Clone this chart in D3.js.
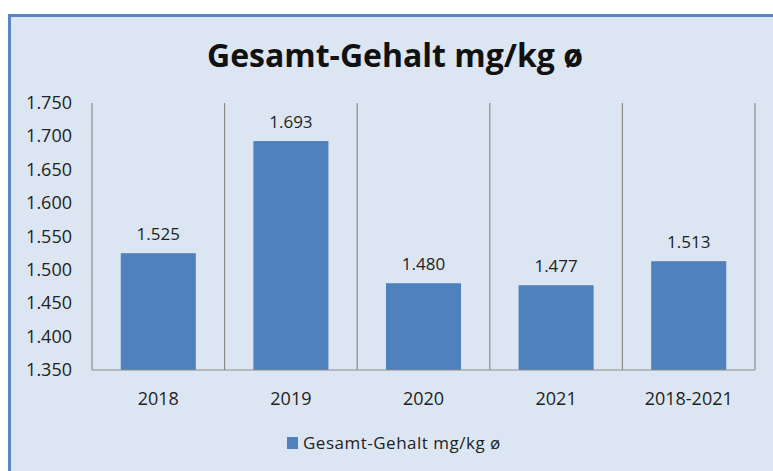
<!DOCTYPE html>
<html>
<head>
<meta charset="utf-8">
<script src="https://cdn.jsdelivr.net/npm/d3@7"></script>
<style>
  body { margin: 0; background: #fff; }
  svg { display: block; }
  text { font-family: "Open Sans", "Noto Sans", sans-serif; }
</style>
</head>
<body>
<svg id="chart"></svg>
<script>
// Daten
const kategorien = ["2018", "2019", "2020", "2021", "2018-2021"];
const werte = [1.525, 1.693, 1.480, 1.477, 1.513];
const yTicks = [1.35, 1.4, 1.45, 1.5, 1.55, 1.6, 1.65, 1.7, 1.75];
const titel = "Gesamt-Gehalt mg/kg ø";

const width = 773, height = 471;
const margin = { left: 92, right: 18, top: 103, bottom: 101 };

const svg = d3.select("#chart").attr("width", width).attr("height", height);

// Rahmen / Hintergrund
svg.append("rect")
  .attr("x", 9.5).attr("y", 15.5)
  .attr("width", width + 10).attr("height", height + 10)
  .attr("fill", "#dce6f2")
  .attr("stroke", "#5a86c1")
  .attr("stroke-width", 3);

// Titel
svg.append("text")
  .attr("x", 395).attr("y", 67)
  .attr("text-anchor", "middle")
  .attr("font-size", 32).attr("font-weight", "bold")
  .attr("fill", "#111")
  .text(titel);

const x = d3.scaleBand()
  .domain(kategorien)
  .range([margin.left, width - margin.right])
  .paddingInner(0.434).paddingOuter(0.217);

const y = d3.scaleLinear()
  .domain([1.35, 1.75])
  .range([height - margin.bottom, margin.top]);

const fmt = d => d3.format(".3f")(d);

// vertikale Trennlinien
const step = x.step();
const grenzen = d3.range(kategorien.length + 1).map(i => margin.left + i * step);
svg.append("g").selectAll("line")
  .data(grenzen).enter().append("line")
  .attr("x1", d => d).attr("x2", d => d)
  .attr("y1", y(1.75)).attr("y2", y(1.35))
  .attr("stroke", "#8c8c8c").attr("stroke-width", 1.2);

// Balken
svg.append("g").selectAll("rect")
  .data(werte).enter().append("rect")
  .attr("x", (d, i) => x(kategorien[i]))
  .attr("y", d => y(d))
  .attr("width", x.bandwidth())
  .attr("height", d => y(1.35) - y(d))
  .attr("fill", "#4f81bd");

// Datenbeschriftungen
svg.append("g").selectAll("text")
  .data(werte).enter().append("text")
  .attr("x", (d, i) => x(kategorien[i]) + x.bandwidth() / 2)
  .attr("y", d => y(d) - 13)
  .attr("text-anchor", "middle")
  .attr("font-size", 17).attr("fill", "#222")
  .text(d => fmt(d));

// x-Achse
svg.append("line")
  .attr("x1", margin.left).attr("x2", width - margin.right)
  .attr("y1", y(1.35)).attr("y2", y(1.35))
  .attr("stroke", "#8c8c8c").attr("stroke-width", 1.2);

svg.append("g").selectAll("text")
  .data(kategorien).enter().append("text")
  .attr("x", d => x(d) + x.bandwidth() / 2)
  .attr("y", y(1.35) + 35)
  .attr("text-anchor", "middle")
  .attr("font-size", 18).attr("fill", "#222")
  .text(d => d);

// y-Achse Beschriftung
svg.append("g").selectAll("text")
  .data(yTicks).enter().append("text")
  .attr("x", 72)
  .attr("y", d => y(d) + 6)
  .attr("text-anchor", "end")
  .attr("font-size", 18).attr("fill", "#222")
  .text(d => fmt(d));

// Legende
const leg = svg.append("g").attr("transform", "translate(287,437)");
leg.append("rect").attr("width", 11).attr("height", 12).attr("fill", "#4f81bd");
leg.append("text").attr("x", 16).attr("y", 12)
  .attr("font-size", 17).attr("letter-spacing", 0.5).attr("fill", "#222")
  .text(titel);
</script>
</body>
</html>
